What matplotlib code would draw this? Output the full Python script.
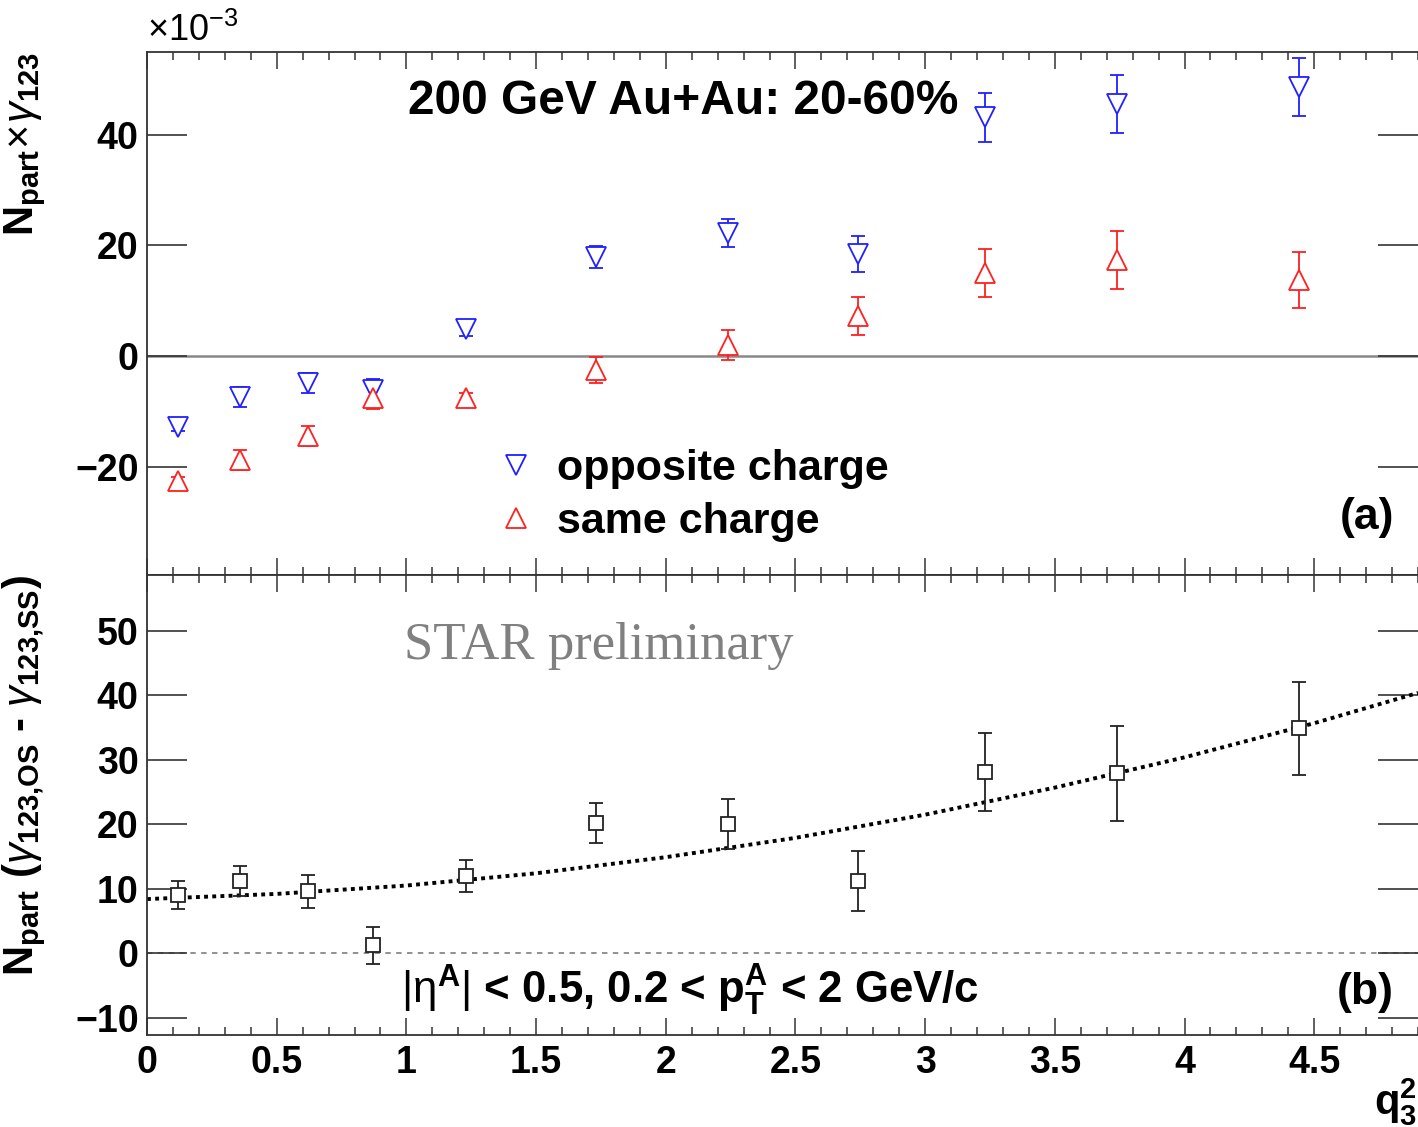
import numpy as np
import matplotlib.pyplot as plt
from matplotlib.lines import Line2D
from matplotlib.ticker import MultipleLocator

plt.rcParams['font.family'] = ['Liberation Sans', 'DejaVu Sans']
plt.rcParams['mathtext.fontset'] = 'custom'
plt.rcParams['mathtext.rm'] = 'Liberation Sans'
plt.rcParams['mathtext.it'] = 'Liberation Sans:italic'
plt.rcParams['mathtext.bf'] = 'Liberation Sans:bold'

# q3^2 bins
q = [0.12, 0.36, 0.62, 0.87, 1.23, 1.73, 2.24, 2.74, 3.23, 3.74, 4.44]
# panel (a): Npart x gamma123 (x1e-3)
os_val = [-12.9, -7.4, -4.9, -6.2, 4.9, 17.9, 22.3, 18.5, 43.2, 45.6, 48.7]
os_err = [0.6, 1.8, 1.8, 2.0, 1.2, 2.0, 2.5, 3.3, 4.4, 5.2, 5.2]
ss_val = [-22.6, -18.8, -14.5, -7.6, -7.6, -2.5, 2.0, 7.2, 15.0, 17.4, 13.8]
ss_err = [0.8, 1.8, 1.8, 2.0, 1.0, 2.4, 2.7, 3.4, 4.3, 5.2, 5.1]
# panel (b): Npart (OS - SS)
diff_val = [9.0, 11.2, 9.6, 1.2, 12.0, 20.2, 20.0, 11.2, 28.1, 27.9, 34.9]
diff_err = [2.2, 2.4, 2.6, 2.9, 2.5, 3.1, 3.9, 4.7, 6.0, 7.4, 7.2]
# fit curve
fit_x = [0, 0.5, 1, 1.5, 2, 2.5, 3, 3.5, 4, 4.5, 4.9]
fit_y = [8.4, 9.2, 10.5, 12.4, 14.9, 17.9, 21.5, 25.7, 30.4, 35.7, 40.4]

W, H = 1418, 1127
fig = plt.figure(figsize=(W / 100, H / 100), dpi=100)
L, R = 147 / W, 1.0
ax1 = fig.add_axes([L, 1 - 575 / H, R - L, (575 - 52) / H])
ax2 = fig.add_axes([L, 1 - 1035 / H, R - L, (1035 - 575) / H])

tickfont = dict(fontsize=27, fontweight='bold')
for ax in (ax1, ax2):
    ax.set_xlim(0, 4.9)
    ax.xaxis.set_major_locator(MultipleLocator(0.5))
    ax.xaxis.set_minor_locator(MultipleLocator(0.1))
    ax.tick_params(axis='x', which='major', direction='in', top=True, bottom=True,
                   length=12, width=1.2, color='#444444', pad=7)
    ax.tick_params(axis='x', which='minor', direction='in', top=True, bottom=True,
                   length=6, width=1.2, color='#444444')
    ax.tick_params(axis='y', which='major', direction='in', left=True, right=True,
                   length=29, width=1.2, color='#333333', pad=6)
    for s in ax.spines.values():
        s.set_linewidth(1.3)
        s.set_color('#333333')
    ax.spines['right'].set_visible(False)

# ---- panel (a)
ax1.set_ylim(-39.6, 55)
ax1.set_yticks([-20, 0, 20, 40])
ax1.set_yticklabels(['\u221220', '0', '20', '40'], **tickfont)
ax1.tick_params(axis='x', labelbottom=False)
ax1.axhline(0, color='#888888', lw=1.8, zorder=1)
ax1.errorbar(q, os_val, yerr=os_err, fmt='v', color='#2020ff', mfc='white',
             ms=15, mew=1.3, elinewidth=1.3, capsize=5, capthick=1.3, zorder=3)
ax1.errorbar(q, ss_val, yerr=ss_err, fmt='^', color='#ff2020', mfc='white',
             ms=15, mew=1.3, elinewidth=1.3, capsize=5, capthick=1.3, zorder=3)
ax1.set_ylabel(r'$\mathbf{N}_{\mathbf{part}}\!\times\!\gamma_{\mathbf{123}}$',
               fontsize=30, loc='top')
ax1.yaxis.set_label_coords(-0.078, 1.0)
ax1.text(0.0, 1.005, r'$\times$10$^{-3}$', transform=ax1.transAxes, fontsize=26,
         ha='left', va='bottom')
ax1.text(0.422, 0.905, '200 GeV Au+Au: 20-60%', transform=ax1.transAxes,
         fontsize=34.5, fontweight='bold', ha='center', va='center')
ax1.text(0.981, 0.11, '(a)', transform=ax1.transAxes, fontsize=32,
         fontweight='bold', ha='right', va='center')
handles = [Line2D([], [], ls='none', marker='v', ms=15, mew=1.3, color='#2020ff', mfc='white'),
           Line2D([], [], ls='none', marker='^', ms=15, mew=1.3, color='#ff2020', mfc='white')]
ax1.legend(handles, ['opposite charge', 'same charge'], loc='center left',
           bbox_to_anchor=(0.26, 0.152), frameon=False,
           prop=dict(size=31, weight='bold'), handlelength=1.0,
           handletextpad=0.45, labelspacing=0.3, borderaxespad=0)

# ---- panel (b)
ax2.set_ylim(-12.7, 58.7)
ax2.set_yticks([-10, 0, 10, 20, 30, 40, 50])
ax2.set_yticklabels(['\u221210', '0', '10', '20', '30', '40', '50'], **tickfont)
ax2.set_xticks([0, 0.5, 1, 1.5, 2, 2.5, 3, 3.5, 4, 4.5])
ax2.set_xticklabels(['0', '0.5', '1', '1.5', '2', '2.5', '3', '3.5', '4', '4.5'], **tickfont)
ax2.axhline(0, color='#888888', lw=1.3, ls=(0, (3, 3)), zorder=1)
ax2.plot(fit_x, fit_y, color='black', lw=2.8, ls=(0, (1, 1.1)), zorder=2)
ax2.errorbar(q, diff_val, yerr=diff_err, fmt='s', color='#222222', mfc='white',
             ms=10, mew=1.3, elinewidth=1.3, capsize=5, capthick=1.3, zorder=3)
ax2.set_ylabel(r'$\mathbf{N}_{\mathbf{part}}$ ($\gamma_{\mathbf{123{,}OS}}$ - $\gamma_{\mathbf{123{,}SS}}$)',
               fontsize=30, fontweight='bold', loc='top')
ax2.yaxis.set_label_coords(-0.078, 1.0)
ax2.text(0.202, 0.817, 'STAR preliminary', transform=ax2.transAxes,
         fontsize=38, family='Liberation Serif', color='#808080',
         ha='left', va='baseline')
ax2.text(0.4276, 0.097, r'$|\mathrm{\eta}^{\mathbf{A}}|$ < 0.5, 0.2 < $\mathbf{p}_{\mathbf{T}}^{\mathbf{A}}$ < 2 GeV/c',
         transform=ax2.transAxes, fontsize=31.5, fontweight='bold',
         ha='center', va='center')
ax2.text(0.981, 0.093, '(b)', transform=ax2.transAxes, fontsize=32,
         fontweight='bold', ha='right', va='center')
fig.text(0.999, 1 - 1102 / H, r'$\mathbf{q}_{\mathbf{3}}^{\mathbf{2}}$', fontsize=30,
         ha='right', va='center')

fig.savefig('out.png', dpi=100)
